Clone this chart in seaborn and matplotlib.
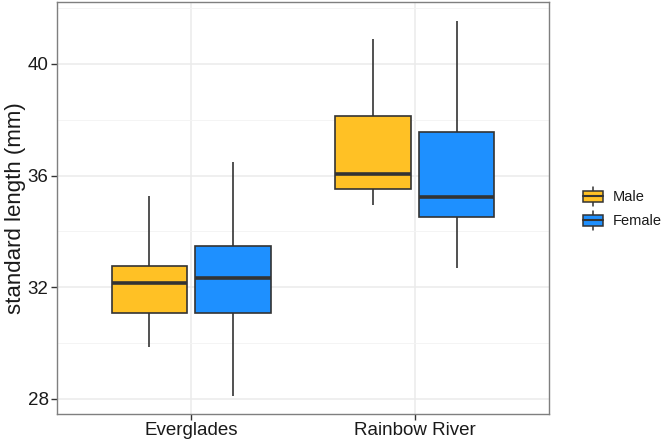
import numpy as np
import pandas as pd
import matplotlib
matplotlib.use("Agg")
import matplotlib.pyplot as plt
import seaborn as sns
from matplotlib.patches import Rectangle, Patch
from matplotlib.lines import Line2D
from matplotlib.legend_handler import HandlerBase
from matplotlib.ticker import FixedLocator

# ---- data (five-number summaries: min, Q1, median, Q3, max)
sites = ["Everglades", "Rainbow River"]
sexes = ["Male", "Female"]
everglades_male = [29.87, 31.07, 32.17, 32.77, 35.27]
everglades_female = [28.12, 31.07, 32.34, 33.47, 36.50]
rainbow_male = [34.96, 35.52, 36.06, 38.15, 40.91]
rainbow_female = [32.70, 34.53, 35.24, 37.57, 41.55]
colors = {"Male": "#FFC125", "Female": "#1E90FF"}
y_ticks = [28, 32, 36, 40]

rows = []
for site, sex, vals in [("Everglades", "Male", everglades_male),
                        ("Everglades", "Female", everglades_female),
                        ("Rainbow River", "Male", rainbow_male),
                        ("Rainbow River", "Female", rainbow_female)]:
    for v in vals:
        rows.append({"site": site, "sex": sex, "length": v})
df = pd.DataFrame(rows)

sns.set_theme(style="white")
plt.rcParams["font.family"] = ["Liberation Sans", "DejaVu Sans"]

fig = plt.figure(figsize=(6.61, 4.42), dpi=100)
ax = fig.add_axes([57 / 661, 28 / 442, (549 - 57) / 661, (414 - 2) / 442])

edge = "#333333"
sns.boxplot(data=df, x="site", y="length", hue="sex", order=sites, hue_order=sexes,
            palette=colors, saturation=1, width=0.75, gap=0.1, whis=(0, 100),
            showcaps=False, linecolor=edge, linewidth=1.2, fliersize=0,
            medianprops=dict(linewidth=2.6, color=edge),
            legend=False, ax=ax)

ax.set_xlim(-0.6, 1.6)
ax.set_ylim(27.46, 42.22)
ax.yaxis.set_major_locator(FixedLocator(y_ticks))
ax.yaxis.set_minor_locator(FixedLocator([30, 34, 38, 42]))
ax.set_axisbelow(True)
ax.grid(True, which="major", color="#EBEBEB", linewidth=1.1)
ax.grid(True, which="minor", axis="y", color="#F3F3F3", linewidth=0.6)
for s in ax.spines.values():
    s.set_color("#7F7F7F")
    s.set_linewidth(1.0)
ax.tick_params(axis="both", which="major", length=4, width=1.0, color="#333333",
               labelsize=13.5, labelcolor="#1a1a1a", pad=2, direction="out",
               left=True, bottom=True)
ax.tick_params(axis="y", which="minor", length=0)
ax.set_xlabel("")
ax.set_ylabel("standard length (mm)", fontsize=16, color="#1a1a1a", labelpad=1.5)


class BoxHandler(HandlerBase):
    def create_artists(self, legend, orig_handle, xdescent, ydescent, width, height,
                       fontsize, trans):
        x0, y0 = -xdescent, -ydescent
        fc = orig_handle.get_facecolor()
        pad = height * 0.18
        rect = Rectangle((x0, y0 + pad), width, height - 2 * pad, facecolor=fc,
                         edgecolor=edge, linewidth=1.1, transform=trans)
        cx = x0 + width / 2
        w1 = Line2D([cx, cx], [y0 - height * 0.05, y0 + pad], color=edge, lw=1.1, transform=trans)
        w2 = Line2D([cx, cx], [y0 + height - pad, y0 + height * 1.05], color=edge, lw=1.1, transform=trans)
        med = Line2D([x0, x0 + width], [y0 + height / 2] * 2, color=edge, lw=1.5, transform=trans)
        return [w1, w2, rect, med]


handles = [Patch(facecolor=colors[s], edgecolor=edge) for s in sexes]
fig.legend(handles, sexes, handler_map={Patch: BoxHandler()},
           loc="center left", bbox_to_anchor=(0.866, 0.529), frameon=False,
           fontsize=10.5, handlelength=1.4, handleheight=1.45, labelspacing=0.45,
           handletextpad=0.65, borderpad=0.2,
           labelcolor="#1a1a1a")

fig.savefig("out.png", dpi=100, facecolor="white")
